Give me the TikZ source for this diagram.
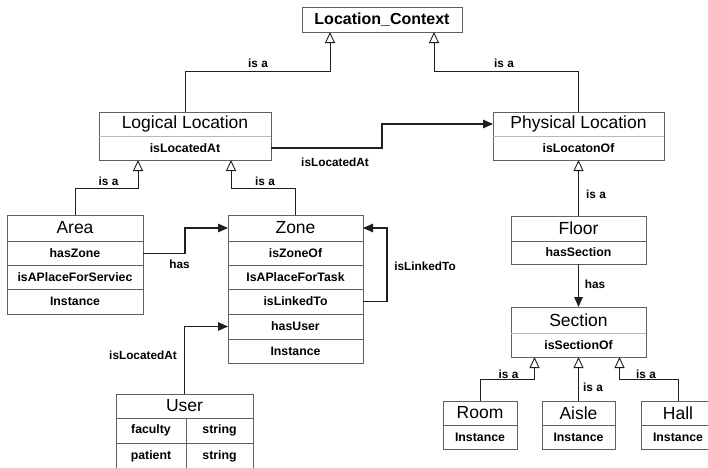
\documentclass[tikz,border=0pt]{standalone}
\usepackage{fontspec}
\setmainfont{Liberation Sans}
\usetikzlibrary{arrows.meta}
\definecolor{boxc}{gray}{0.38}
\definecolor{divc}{gray}{0.72}
\definecolor{linec}{gray}{0.12}
\tikzset{
  cell/.style 2 args={draw=boxc, line width=0.9pt, minimum width=#1, minimum height=#2,
    inner sep=0pt, outer sep=0pt, anchor=north west},
  ttl/.style={font=\fontsize{17.5}{19}\selectfont},
  att/.style={font=\bfseries\fontsize{12.3}{13}\selectfont},
  lbl/.style={font=\bfseries\fontsize{11.8}{13}\selectfont, inner sep=0pt},
  isa/.style={draw=linec, line width=1pt,
    -{Triangle[open, length=11pt, width=10pt, line width=0.9pt]}},
  rel/.style={draw=linec, line width=1.1pt, -{Triangle[length=10pt, width=8.5pt]}},
  lightdiv/.style={draw=divc, line width=0.9pt}
}
\begin{document}
\begin{tikzpicture}[x=1pt, y=-1pt]
\useasboundingbox (0,0) rectangle (708,467);
\fill[white] (0,0) rectangle (708,467);
\clip (0,0) rectangle (708,467);

% Location_Context
\node[cell={160pt}{25pt}, font=\bfseries\fontsize{16}{18}\selectfont] (lc) at (302,7) {Location\_Context};

% Logical Location
\node[cell={172pt}{24pt}, ttl] (llt) at (99,112) {Logical Location};
\node[cell={172pt}{24pt}, att] (lla) at (99,136) {isLocatedAt};
\draw[lightdiv] (llt.south west) -- (llt.south east);

% Physical Location
\node[cell={171pt}{24pt}, ttl] (plt) at (493,112) {Physical Location};
\node[cell={171pt}{24pt}, att] (pla) at (493,136) {isLocatonOf};
\draw[lightdiv] (plt.south west) -- (plt.south east);

% Area
\node[cell={136pt}{26pt}, ttl] (areat) at (7,215) {Area};
\node[cell={136pt}{24.5pt}, att] (area1) at (7,241) {hasZone};
\node[cell={136pt}{23.5pt}, att] (area2) at (7,265.5) {isAPlaceForServiec};
\node[cell={136pt}{25pt}, att] (area3) at (7,289) {Instance};

% Zone
\node[cell={135pt}{26pt}, ttl] (zt) at (228,215) {Zone};
\node[cell={135pt}{24pt}, att] (z1) at (228,241) {isZoneOf};
\node[cell={135pt}{24pt}, att] (z2) at (228,265) {IsAPlaceForTask};
\node[cell={135pt}{25pt}, att] (z3) at (228,289) {isLinkedTo};
\node[cell={135pt}{25pt}, att] (z4) at (228,314) {hasUser};
\node[cell={135pt}{24pt}, att] (z5) at (228,339) {Instance};

% User
\node[cell={137pt}{24pt}, ttl] (ut) at (116,394) {User};
\node[cell={70pt}{25pt}, att] (u1) at (116,418) {faculty};
\node[cell={67pt}{25pt}, att] (u2) at (186,418) {string};
\node[cell={70pt}{26pt}, att] (u3) at (116,443) {patient};
\node[cell={67pt}{26pt}, att] (u4) at (186,443) {string};

% Floor
\node[cell={135pt}{25pt}, ttl] (ft) at (511,216) {Floor};
\node[cell={135pt}{23pt}, att] (fa) at (511,241) {hasSection};

% Section
\node[cell={135pt}{26pt}, ttl] (st) at (511,307) {Section};
\node[cell={135pt}{24pt}, att] (sa) at (511,333) {isSectionOf};
\draw[lightdiv] (st.south west) -- (st.south east);

% Room, Aisle, Hall
\node[cell={74pt}{24pt}, ttl] (rt) at (443,401) {Room};
\node[cell={74pt}{24pt}, att] (ra) at (443,425) {Instance};
\node[cell={73pt}{24pt}, ttl] (ait) at (542,401) {Aisle};
\node[cell={73pt}{24pt}, att] (aia) at (542,425) {Instance};
\node[cell={74pt}{24pt}, ttl] (ht) at (641,401) {Hall};
\node[cell={74pt}{24pt}, att] (ha) at (641,425) {Instance};

% connectors
\draw[isa] (llt.north) -- ++(0,-41) -| ([xshift=-52pt]lc.south);
\draw[isa] (plt.north) -- ++(0,-41) -| ([xshift=52pt]lc.south);
\draw[rel] (lla.east) -- ++(111,0) |- (plt.west);
\draw[isa] (areat.north) -- ++(0,-27) -| ([xshift=-47pt]lla.south);
\draw[isa] (zt.north) -- ++(0,-27) -| ([xshift=46pt]lla.south);
\draw[rel] (area1.east) -- ++(42,0) |- (zt.west);
\draw[rel] (z3.east) -- ++(24,0) |- (zt.east);
\draw[rel] (ut.north) |- (z4.west);
\draw[isa] (ft.north) -- (pla.south);
\draw[rel] (fa.south) -- (st.north);
\draw[isa] (rt.north) -- ++(0,-22) -| ([xshift=-44pt]sa.south);
\draw[isa] (ait.north) -- (sa.south);
\draw[isa] (ht.north) -- ++(0,-22) -| ([xshift=41pt]sa.south);

% labels
\node[lbl] (l1) at (258,63) {is a};
\node[lbl] (l2) at (504,63) {is a};
\node[lbl] (l3) at (335,162) {isLocatedAt};
\node[lbl] (l4) at (108.5,181) {is a};
\node[lbl] (l5) at (265,181) {is a};
\node[lbl] (l6) at (179.5,264) {has};
\node[lbl] (l7) at (425,266) {isLinkedTo};
\node[lbl] (l8) at (143,355) {isLocatedAt};
\node[lbl] (l9) at (596,194) {is a};
\node[lbl] (l10) at (595,284) {has};
\node[lbl] (l11) at (508.5,374) {is a};
\node[lbl] (l12) at (593,387) {is a};
\node[lbl] (l13) at (646,374) {is a};
\end{tikzpicture}
\end{document}
